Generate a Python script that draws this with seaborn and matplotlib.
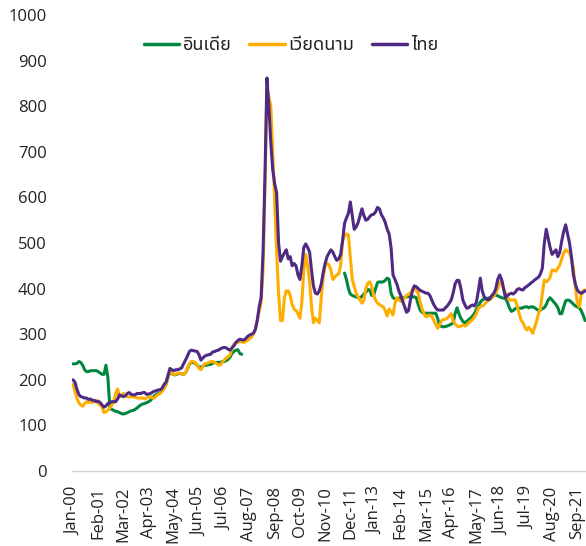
import numpy as np
import pandas as pd
import matplotlib
matplotlib.use("Agg")
import matplotlib.pyplot as plt
import seaborn as sns
from matplotlib import font_manager

# ---------------- data (monthly, Jan-2000 .. Jan-2022) ----------------
nan = np.nan
series_names = ["อินเดีย", "เวียดนาม", "ไทย"]

india = [
    235, 235, 236, 240, 238, 232, 222, 218, 218, 220, 220, 220,   # 2000
    220, 218, 215, 212, 212, 232, 205, 140, 135, 133, 131, 130,   # 2001
    128, 126, 125, 126, 128, 130, 132, 133, 135, 138, 142, 145,   # 2002
    147, 148, 150, 152, 155, 160, 165, 168, 170, 172, 176, 182,   # 2003
    190, 205, 218, 214, 211, 211, 213, 214, 213, 212, 215, 224,   # 2004
    234, 238, 238, 236, 232, 228, 228, 230, 232, 232, 233, 234,   # 2005
    236, 238, 238, 238, 238, 240, 240, 242, 245, 250, 258, 262,   # 2006
    265, 266, 258, 256, nan, nan, nan, nan, nan, nan, nan, nan,   # 2007
    nan, nan, nan, nan, nan, nan, nan, nan, nan, nan, nan, nan,   # 2008
    nan, nan, nan, nan, nan, nan, nan, nan, nan, nan, nan, nan,   # 2009
    nan, nan, nan, nan, nan, nan, nan, nan, nan, nan, nan, nan,   # 2010
    nan, nan, nan, nan, nan, nan, nan, nan, 434, 420, 400, 388,   # 2011
    385, 383, 382, 380, 380, 383, 388, 392, 398, 397, 385, 385,   # 2012
    400, 413, 415, 414, 415, 418, 423, 420, 390, 380, 378, 378,   # 2013
    379, 380, 380, 381, 382, 382, 382, 382, 382, 380, 365, 353,   # 2014
    348, 346, 346, 346, 346, 346, 346, 346, 335, 320, 317, 316,   # 2015
    317, 318, 320, 322, 325, 345, 358, 345, 335, 328, 325, 328,   # 2016
    332, 335, 340, 345, 355, 362, 370, 375, 377, 378, 379, 380,   # 2017
    382, 385, 386, 384, 382, 380, 379, 378, 370, 358, 350, 352,   # 2018
    356, 358, 357, 357, 358, 360, 360, 358, 360, 360, 358, 355,   # 2019
    352, 353, 356, 358, 365, 375, 380, 375, 370, 365, 358, 345,   # 2020
    345, 360, 373, 375, 374, 370, 366, 362, 360, 358, 352, 342,   # 2021
    330,                                                          # 2022
]

vietnam = [
    190, 175, 160, 150, 145, 142, 148, 152, 150, 152, 150, 152,   # 2000
    155, 148, 145, 140, 128, 130, 133, 138, 145, 152, 170, 180,   # 2001
    162, 165, 170, 165, 163, 162, 163, 163, 162, 160, 160, 160,   # 2002
    160, 158, 160, 162, 163, 160, 160, 165, 168, 170, 175, 182,   # 2003
    190, 205, 220, 215, 212, 212, 214, 215, 213, 212, 215, 225,   # 2004
    235, 240, 240, 238, 232, 225, 222, 230, 235, 236, 238, 240,   # 2005
    240, 238, 236, 232, 233, 238, 243, 248, 250, 255, 270, 278,   # 2006
    280, 282, 284, 283, 282, 284, 286, 290, 293, 300, 310, 330,   # 2007
    350, 370, 440, 620, 840, 820, 800, 700, 590, 480, 390, 330,   # 2008
    330, 380, 395, 395, 385, 365, 355, 352, 345, 335, 370, 440,   # 2009
    475, 450, 415, 360, 325, 335, 330, 325, 380, 425, 450, 455,   # 2010
    452, 440, 420, 425, 430, 432, 450, 505, 515, 520, 518, 470,   # 2011
    420, 405, 390, 382, 375, 368, 375, 400, 412, 415, 405, 385,   # 2012
    375, 368, 365, 362, 360, 352, 340, 355, 350, 342, 368, 380,   # 2013
    375, 372, 375, 380, 385, 388, 390, 398, 404, 395, 390, 370,   # 2014
    355, 345, 338, 340, 342, 340, 330, 322, 313, 320, 330, 332,   # 2015
    333, 335, 340, 345, 330, 322, 318, 316, 318, 320, 318, 320,   # 2016
    325, 328, 332, 338, 345, 357, 360, 362, 365, 370, 374, 376,   # 2017
    380, 385, 390, 400, 412, 418, 400, 390, 380, 375, 375, 375,   # 2018
    375, 362, 345, 331, 325, 315, 309, 315, 310, 302, 315, 328,   # 2019
    345, 355, 390, 419, 415, 418, 425, 441, 440, 438, 445, 452,   # 2020
    465, 478, 485, 482, 478, 465, 445, 405, 370, 360, 385, 395,   # 2021
    397,                                                          # 2022
]

thailand = [
    200, 195, 180, 168, 163, 162, 160, 160, 157, 158, 155, 155,   # 2000
    152, 153, 150, 145, 140, 143, 148, 150, 152, 152, 152, 158,   # 2001
    167, 165, 163, 165, 170, 172, 168, 167, 167, 170, 170, 170,   # 2002
    172, 172, 168, 169, 170, 173, 175, 176, 178, 178, 182, 190,   # 2003
    195, 210, 225, 222, 220, 222, 222, 224, 226, 235, 243, 252,   # 2004
    262, 265, 264, 263, 262, 255, 243, 248, 252, 254, 255, 256,   # 2005
    261, 262, 264, 265, 268, 270, 271, 270, 267, 265, 270, 275,   # 2006
    282, 286, 289, 288, 287, 290, 295, 298, 300, 302, 310, 330,   # 2007
    360, 380, 480, 650, 862, 800, 720, 660, 630, 610, 500, 460,   # 2008
    470, 478, 485, 465, 470, 450, 455, 450, 430, 420, 450, 490,   # 2009
    498, 490, 480, 440, 405, 390, 388, 395, 410, 435, 455, 470,   # 2010
    478, 485, 480, 470, 462, 465, 475, 505, 543, 555, 565, 590,   # 2011
    560, 530, 535, 545, 560, 575, 560, 550, 552, 558, 562, 563,   # 2012
    568, 578, 575, 562, 555, 545, 530, 520, 490, 430, 420, 410,   # 2013
    395, 385, 372, 360, 348, 352, 375, 395, 406, 404, 400, 396,   # 2014
    394, 392, 390, 390, 385, 375, 365, 358, 353, 353, 353, 353,   # 2015
    358, 362, 368, 375, 390, 410, 418, 418, 400, 375, 365, 357,   # 2016
    358, 362, 364, 362, 370, 395, 423, 395, 382, 378, 375, 378,   # 2017
    385, 390, 400, 420, 430, 420, 400, 380, 385, 388, 390, 388,   # 2018
    392, 398, 400, 398, 397, 402, 405, 408, 412, 415, 419, 422,   # 2019
    425, 432, 445, 500, 530, 510, 490, 475, 480, 485, 470, 480,   # 2020
    505, 525, 540, 520, 500, 470, 430, 410, 397, 392, 390, 392,   # 2021
    395,                                                          # 2022
]

tick_labels = ["Jan-00", "Feb-01", "Mar-02", "Apr-03", "May-04", "Jun-05",
               "Jul-06", "Aug-07", "Sep-08", "Oct-09", "Nov-10", "Dec-11",
               "Jan-13", "Feb-14", "Mar-15", "Apr-16", "May-17", "Jun-18",
               "Jul-19", "Aug-20", "Sep-21"]
tick_step = 13
y_ticks = list(range(0, 1001, 100))
colors = ["#00873F", "#FFAE00", "#4E2A84"]

# ---------------- styling / fonts ----------------
sns.set_theme(style="white")
installed = {f.name for f in font_manager.fontManager.ttflist}
thai_font = next((n for n in ["Noto Sans Thai", "Noto Sans Thai Looped", "Anuphan",
                              "Sarabun", "IBM Plex Sans Thai"] if n in installed),
                 "DejaVu Sans")
latin_font = "Open Sans" if "Open Sans" in installed else "DejaVu Sans"
plt.rcParams['font.family'] = [latin_font, thai_font, 'DejaVu Sans']

# ---------------- build long-form table ----------------
rows = []
for name, vals in zip(series_names, [india, vietnam, thailand]):
    seg = 0
    prev_nan = False
    for m, v in enumerate(vals):
        if np.isnan(v):
            prev_nan = True
            continue
        if prev_nan:
            seg += 1
            prev_nan = False
        rows.append({"month": m, "price": v, "country": name, "seg": seg})
df = pd.DataFrame(rows)

fig = plt.figure(figsize=(5.86, 5.46), dpi=100)
ax = fig.add_axes([72 / 586, 75 / 546, 514 / 586, 456 / 546])

sns.lineplot(data=df, x="month", y="price", hue="country", units="seg",
             estimator=None, hue_order=series_names,
             palette=dict(zip(series_names, colors)),
             linewidth=2.2, ax=ax, sort=True)

ax.set_xlim(-0.5, 264.5)
ax.set_ylim(0, 1000)
ax.set_xticks(range(0, tick_step * len(tick_labels), tick_step))
ax.set_xticklabels(tick_labels, rotation=90, fontsize=12, color="#222222")
ax.set_yticks(y_ticks)
ax.set_yticklabels([str(t) for t in y_ticks], fontsize=12, color="#222222")
ax.tick_params(axis="y", length=0, pad=18)
ax.tick_params(axis="x", length=0, pad=11)
ax.set_xlabel("")
ax.set_ylabel("")
for s in ["top", "right", "left"]:
    ax.spines[s].set_visible(False)
ax.spines["bottom"].set_color("#D4D4D4")
ax.spines["bottom"].set_linewidth(1.0)
ax.grid(False)

handles, labels = ax.get_legend_handles_labels()
leg = ax.legend(handles, labels, loc="center", bbox_to_anchor=(291 / 586, 1 - 45 / 546),
                bbox_transform=fig.transFigure, ncol=3, frameon=False,
                fontsize=13, handlelength=1.95, handletextpad=0.2,
                columnspacing=1.0)
for line in leg.get_lines():
    line.set_linewidth(2.5)
for t in leg.get_texts():
    t.set_color("#222222")

fig.savefig("out.png", dpi=100)
